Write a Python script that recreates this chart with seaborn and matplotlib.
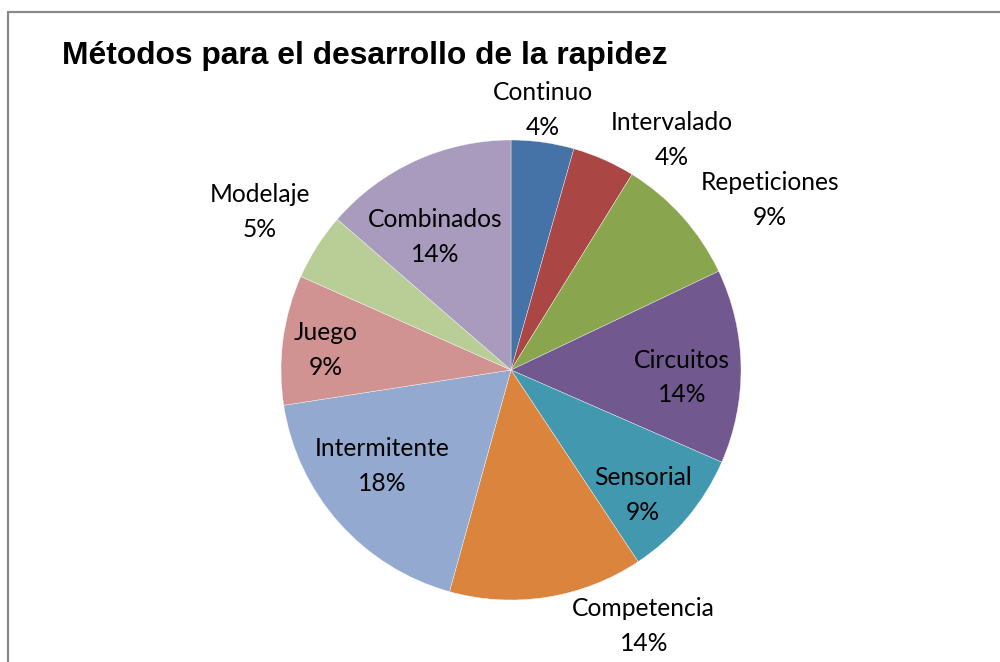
import numpy as np
import matplotlib
matplotlib.use("Agg")
import matplotlib.pyplot as plt
from matplotlib.lines import Line2D
import seaborn as sns

sns.set_theme(style="white")

# ---- data ----
categories = ["Continuo", "Intervalado", "Repeticiones", "Circuitos", "Sensorial",
              "Competencia", "Intermitente", "Juego", "Modelaje", "Combinados"]
values = [4.4, 4.4, 9.1, 13.6, 9.1, 13.6, 18.2, 9.1, 4.7, 13.6]
title = "Métodos para el desarrollo de la rapidez"

# ---- style ----
colors = ["#4572A7", "#AA4643", "#89A54E", "#71588F", "#4198AF",
          "#DB843D", "#93A9CF", "#D19392", "#B9CD96", "#A99BBD"]
# label placement (radius factor, angle tweak in degrees, clockwise)
lab_r = [1.139, 1.222, 1.348, 0.744, 0.791, 1.254, 0.700, 0.809, 1.29, 0.666]
lab_d = [-0.9, 11.2, 8.6, 3.4, 3.4, -18.4, 5.0, -1.4, -0.3, -5.3]

W, H = 1000, 662
fig = plt.figure(figsize=(W / 100, H / 100), dpi=100)
fig.patch.set_facecolor("white")

cx, cy, R, half = 511, 370, 230, 300
ax = fig.add_axes([(cx - half) / W, (H - cy - half) / H, 2 * half / W, 2 * half / H])
wedges, _ = ax.pie(values, colors=colors, startangle=90, counterclock=False,
                   radius=1.0, wedgeprops=dict(edgecolor="white", linewidth=0.25))
lim = half / R
ax.set_xlim(-lim, lim)
ax.set_ylim(-lim, lim)
ax.axis("off")

total = sum(values)
font_lab = ["Lato", "DejaVu Sans"]
for w, name, v, r, d in zip(wedges, categories, values, lab_r, lab_d):
    mid = np.deg2rad((w.theta1 + w.theta2) / 2 - d)
    x, y = r * np.cos(mid), r * np.sin(mid)
    pct = round(100 * v / total)
    ax.text(x, y, f"{name}\n{pct}%", ha="center", va="center", multialignment="center",
            fontsize=17.7, family=font_lab, color="#000000", linespacing=1.62)

fig.text(62 / W, 1 - 56 / H, title, ha="left", va="center", fontsize=22.9,
         fontweight="bold", family=["Liberation Sans", "DejaVu Sans"], color="black")

# chart border (extends beyond the image on right and bottom)
bc = "#8a8a8a"
fig.add_artist(Line2D([8 / W, 8 / W], [-0.1, 1 - 12 / H], transform=fig.transFigure,
                      color=bc, linewidth=1.6))
fig.add_artist(Line2D([8 / W, 1.1], [1 - 12 / H, 1 - 12 / H], transform=fig.transFigure,
                      color=bc, linewidth=1.6))

fig.savefig("out.png", dpi=100, facecolor="white")
